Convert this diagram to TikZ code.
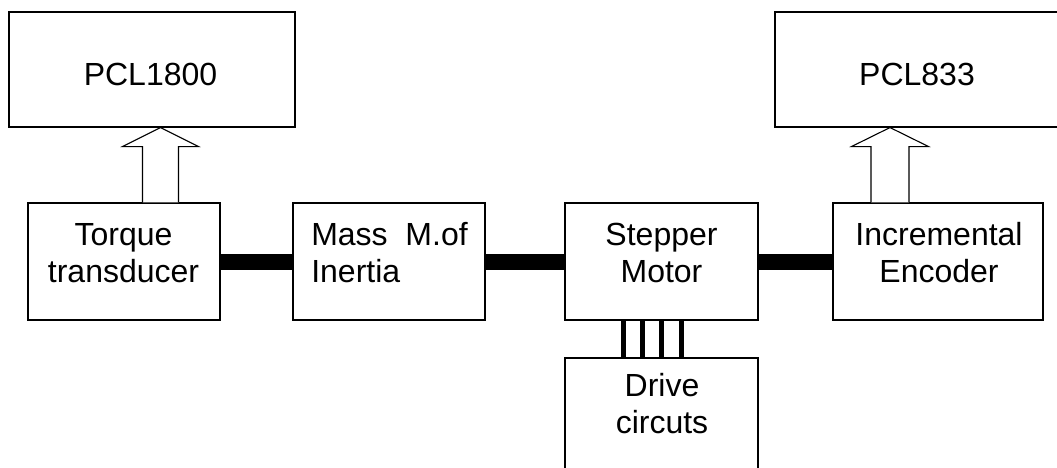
\documentclass[tikz,border=0pt]{standalone}
\usepackage{fontspec}
\setmainfont{Liberation Sans}
\usetikzlibrary{calc}
\begin{document}
\begin{tikzpicture}[x=1pt,y=-1pt,
  box/.style={draw=black,line width=1.1pt,fill=white,rectangle,inner sep=0pt},
  lbl/.style={font=\fontsize{32}{37}\selectfont,align=center,inner sep=0pt},
  lbll/.style={lbl,align=left},
  shaftline/.style={line width=16pt},
  wire/.style={line width=5pt},
  hollow/.style={draw=black,line width=1.1pt,fill=white,line join=miter}]
\useasboundingbox (0,0) rectangle (1057,468);
\clip (0,0) rectangle (1057,468);

% boxes
\node[box,minimum width=286pt,minimum height=115pt] (pcla) at (152,69.5) {};
\node[box,minimum width=284pt,minimum height=115pt] (pclb) at (917,69.5) {};
\node[box,minimum width=192pt,minimum height=117pt] (torque) at (124,261.5) {};
\node[box,minimum width=192pt,minimum height=117pt] (mass) at (389,261.5) {};
\node[box,minimum width=193pt,minimum height=117pt] (stepper) at (661.5,261.5) {};
\node[box,minimum width=210pt,minimum height=117pt] (encoder) at (938,261.5) {};
\node[box,minimum width=193pt,minimum height=120pt] (drive) at (661.5,418) {};

% labels
\node[lbl] (tpcla) at (150.5,74.6) {PCL1800};
\node[lbl] (tpclb) at (917,74.6) {PCL833};
\node[lbl] (ttorque) at (123.5,253.3) {Torque\\transducer};
\node[lbll] (tmass) at (389.5,253) {Mass\ \ M.of\\Inertia};
\node[lbl] (tstepper) at (661.5,253) {Stepper\\Motor};
\node[lbl] (tencoder) at (939,253) {Incremental\\Encoder};
\node[lbl] (tdrive) at (662,404) {Drive\\circuts};

% shafts
\draw[shaftline] (torque.east) -- (mass.west);
\draw[shaftline] (mass.east) -- (stepper.west);
\draw[shaftline] (stepper.east) -- (encoder.west);

% wires
\foreach \dx in {-38,-19,0,20}
  \draw[wire] ($(stepper.south)+(\dx,0)$) -- ($(drive.north)+(\dx,0)$);

% hollow arrows
\coordinate (ax1) at (160.5,0);
\coordinate (a1b) at (torque.north -| ax1);
\coordinate (a1t) at (pcla.south -| ax1);
\draw[hollow] ($(a1b)+(-18,0)$) -- ($(a1t)+(-18,19)$) -- ($(a1t)+(-38,19)$) -- (a1t)
  -- ($(a1t)+(38,19)$) -- ($(a1t)+(18,19)$) -- ($(a1b)+(18,0)$);
\coordinate (ax2) at (890,0);
\coordinate (a2b) at (encoder.north -| ax2);
\coordinate (a2t) at (pclb.south -| ax2);
\draw[hollow] ($(a2b)+(-19,0)$) -- ($(a2t)+(-19,19)$) -- ($(a2t)+(-38.5,19)$) -- (a2t)
  -- ($(a2t)+(38.5,19)$) -- ($(a2t)+(19,19)$) -- ($(a2b)+(19,0)$);
\end{tikzpicture}
\end{document}
